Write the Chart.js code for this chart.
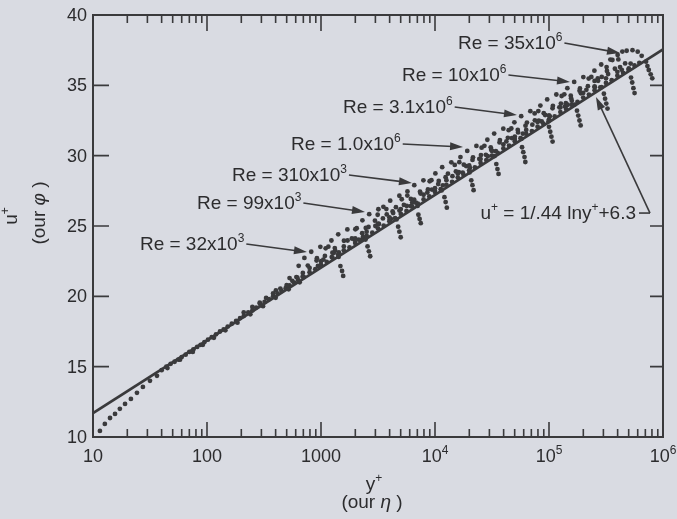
<!DOCTYPE html>
<html><head><meta charset="utf-8">
<script src="https://cdn.jsdelivr.net/npm/chart.js@4/dist/chart.umd.min.js"></script>
<style>
html,body{margin:0;padding:0;background:#d9dbe2;}
#wrap{width:677px;height:519px;position:relative;}
canvas{display:block;}
</style>
</head><body><div id="wrap"><canvas id="c" width="677" height="519"></canvas></div>
<script>
// ---------- axis ticks ----------
const xMajor = [10, 100, 1000, 1e4, 1e5, 1e6];
const xMajorBase = ['10', '100', '1000', '10', '10', '10'];
const xMajorExp = ['', '', '', '4', '5', '6'];
const yMajor = [10, 15, 20, 25, 30, 35, 40];

// ---------- log-law line u+ = 1/.44 ln y+ + 6.3 (end points as drawn) ----------
const lineYplus = [10, 1e6];
const lineUplus = [11.7, 37.55];

// ---------- measured profiles [y+, u+] ----------
const nearWall = [[11.5,10.43],[12.7,10.93],[14.1,11.35],[15.6,11.64],[17.2,12.0],[19.1,12.35],[21.5,12.71],[24.3,13.14],[27.4,13.56],[31.6,13.99],[36.4,14.35]];
const logRegion = [[40,14.75],[44,15.0],[48,15.2],[52,15.35],[56,15.5],[60,15.68],[65,15.85],[70,16.05],[76,16.22],[82,16.4],[88,16.55],[95,16.75],[102,16.92],[110,17.1],[120,17.3],[130,17.5],[140,17.65],[152,17.85],[165,18.05],[180,18.25],[195,18.45],[210,18.6],[230,18.85],[250,19.0],[270,19.2],[295,19.4],[320,19.6],[350,19.8],[380,20.0],[415,20.2],[450,20.38],[490,20.58],[530,20.78],[580,20.98],[630,21.15],[690,21.4],
  [45,14.9],[58,15.5],[75,16.05],[92,16.55],[115,17.05],[145,17.58],[185,18.13],[240,18.72],[310,19.3],[400,19.9],[520,20.5],[650,21.0],
  [210,18.85],[250,19.25],[290,19.55],[330,19.88],[380,20.2],[440,20.55],[500,20.8],[560,21.1],[620,21.33]];
const outerLog = [[708,21.36],[794,21.72],[891,21.93],[1000,22.24],[1122,22.45],[1259,22.76],[1413,22.97],[1585,23.27],[1778,23.48],[1995,23.79],[2239,24.0],[2512,24.31],[2818,24.52],[3162,24.83],[3548,25.03],[3981,25.34],[4467,25.55],[5012,25.86],[5623,26.07],[6310,26.38],[7079,26.58],[7943,26.89],[8913,27.1],[10000,27.41],[11220,27.62],[12590,27.93],[14130,28.14],[15850,28.44],[17780,28.65],[19950,28.96],[22390,29.17],[25120,29.48],[28180,29.69],[31620,30.0],[35480,30.2],[39810,30.51],[44670,30.72],[50120,31.03],[56230,31.24],[63100,31.55],[70790,31.75],[79430,32.06],[89130,32.27],[100000,32.58],[112200,32.79],[125900,33.1],[141300,33.31],[158500,33.61],[177800,33.82],[199500,34.13],[223900,34.34],[251200,34.65],[281800,34.86],[316200,35.17],[354800,35.37],[398100,35.68],[446700,35.89],[501200,36.2],[562300,36.41],
  [794,22.02],[1000,22.5],[1259,23.1],[1585,23.55],[1995,24.12],[2512,24.6],[3162,25.16],[3981,25.62],[5012,26.2],[6310,26.66],[7943,27.22],[10000,27.69],[12590,28.26],[15850,28.72],[19950,29.3],[25120,29.76],[31620,30.33],[39810,30.8],[50120,31.36],[63100,31.83],[79430,32.4],[100000,32.86],[125900,33.43],[158500,33.9],[199500,34.46],[251200,34.93],[316200,35.5],[398100,35.96]];
const re32k = [[291,19.49],[402,20.42],[530,21.3],[637,22.17],[715,22.73],[821,23.17],[987,23.52],[1160,23.53],[1331,23.25],[608,21.37],[766,22.19],[921,22.71],[1082,22.87],[1242,22.79],[1426,22.8],[1480,22.15],[1530,21.8],[1565,21.45]];
const re55k = [[502,20.73],[693,21.66],[914,22.54],[1099,23.41],[1234,23.97],[1416,24.41],[1703,24.76],[2001,24.77],[2296,24.49],[1049,22.61],[1321,23.43],[1590,23.95],[1866,24.11],[2143,24.03],[2459,24.04],[2560,23.55],[2630,23.2],[2700,22.85]];
const re99k = [[940,22.16],[1297,23.09],[1710,23.97],[2057,24.84],[2308,25.4],[2648,25.84],[3186,26.19],[3743,26.2],[4296,25.92],[1963,24.04],[2471,24.86],[2974,25.38],[3492,25.54],[4010,25.46],[4602,25.47],[4750,24.95],[4870,24.6],[5000,24.2]];
const re170k = [[1435,23.12],[1981,24.05],[2612,24.93],[3142,25.8],[3526,26.36],[4046,26.8],[4867,27.15],[5718,27.16],[6562,26.88],[2999,25.0],[3775,25.82],[4543,26.34],[5334,26.5],[6125,26.42],[7029,26.43],[7150,25.8],[7330,25.5],[7500,25.2]];
const re310k = [[2334,24.22],[3222,25.15],[4247,26.03],[5108,26.9],[5733,27.46],[6578,27.9],[7914,28.25],[9298,28.26],[10670,27.98],[4876,26.1],[6137,26.92],[7387,27.44],[8673,27.6],[9959,27.52],[11430,27.53],[12100,27.05],[12400,26.7],[12700,26.3]];
const re550k = [[4101,25.5],[5662,26.43],[7465,27.31],[8978,28.18],[10076,28.74],[11562,29.18],[13908,29.53],[16341,29.54],[18753,29.26],[8569,27.38],[10787,28.2],[12983,28.72],[15243,28.88],[17504,28.8],[20087,28.81],[20800,28.25],[21300,27.9],[21800,27.55]];
const re1M = [[6807,26.66],[9397,27.59],[12388,28.47],[14899,29.34],[16722,29.9],[19187,30.34],[23082,30.69],[27119,30.7],[31121,30.42],[14221,28.54],[17901,29.36],[21545,29.88],[25297,30.04],[29048,29.96],[33336,29.97],[34500,29.4],[35300,29.05],[36100,28.7]];
const re1_8M = [[11720,27.89],[16180,28.82],[21330,29.7],[25650,30.57],[28790,31.13],[33040,31.57],[39740,31.92],[46690,31.93],[53580,31.65],[24480,29.77],[30820,30.59],[37100,31.11],[43560,31.27],[50020,31.19],[57400,31.2],[58000,30.6],[59500,30.25],[61000,29.9],[62000,29.55]];
const re3_1M = [[20230,29.13],[27930,30.06],[36820,30.94],[44290,31.81],[49700,32.37],[57030,32.81],[68610,33.16],[80610,33.17],[92500,32.89],[42270,31.01],[53210,31.83],[64040,32.35],[75190,32.51],[86340,32.43],[99080,32.44],[100000,32.05],[102500,31.7],[105000,31.35],[107500,31.0]];
const re5_4M = [[34190,30.32],[47210,31.25],[62230,32.13],[74850,33.0],[84010,33.56],[96390,34.0],[116000,34.35],[136200,34.36],[156300,34.08],[71440,32.2],[89930,33.02],[108200,33.54],[127100,33.7],[145900,33.62],[167500,33.63],[176000,33.2],[180500,32.85],[185000,32.5],[189500,32.15]];
const re10M = [[59000,31.56],[81450,32.49],[107400,33.37],[129100,34.24],[144900,34.8],[166300,35.24],[200100,35.59],[235100,35.6],[269700,35.32],[123300,33.44],[155200,34.26],[186800,34.78],[219300,34.94],[251800,34.86],[289000,34.87],[303000,34.4],[310500,34.05],[318000,33.7],[326000,33.35]];
const re18M = [[101800,32.8],[140600,33.73],[185300,34.61],[222900,35.48],[250200,36.04],[287100,36.48],[345400,36.83],[405800,36.84],[465600,36.56],[212800,34.68],[267800,35.5],[322400,36.02],[378500,36.18],[434600,36.1],[498800,36.11],[524000,35.55],[537000,35.2],[550000,34.8],[563000,34.45]];
const re35M = [[138000,33.5],[190500,34.43],[251100,35.31],[290000,35.6],[320000,36.3],[360000,36.8],[400000,37.16],[440000,37.4],[480000,37.46],[540000,37.5],[600000,37.39],[650000,37.1],[330000,35.8],[420000,36.3],[520000,36.55],[620000,36.6],[710000,36.68],[730000,36.37],[750000,36.09],[780000,35.78],[805000,35.5]];
const profiles = [nearWall, logRegion, outerLog, re32k, re55k, re99k, re170k, re310k, re550k, re1M, re1_8M, re3_1M, re5_4M, re10M, re18M, re35M];

// ---------- annotations (data coordinates) ----------
const reMantissa = ['32', '99', '310', '1.0', '3.1', '10', '35'];
const reExponent = ['3', '3', '3', '6', '6', '6', '6'];
const reTextAt = [[25.8,23.29],[81.7,26.21],[165.6,28.2],[546,30.4],[1560,33.03],[5140,35.31],[15920,37.58]];
const reArrowTo = [[753,23.15],[2432,26.0],[6280,28.06],[17620,30.62],[52360,32.89],[152800,35.24],[419800,37.3]];
const lawTextEnd = [579700, 25.5];
const lawArrowFrom = [769000, 25.92];
const lawArrowTo = [258200, 34.17];

const INK = '#3a3a3c';
const TXT = '#2c2c2e';
const FONT = '"Liberation Sans", Arial, Helvetica, sans-serif';

function supText(ctx, x, y, base, sup, size, align, italicBase){
  const bf = (italicBase ? 'italic ' : '') + size + 'px ' + FONT;
  const sf = Math.round(size*0.65) + 'px ' + FONT;
  ctx.font = bf; const wb = ctx.measureText(base).width;
  ctx.font = sf; const ws = sup ? ctx.measureText(sup).width : 0;
  const w = wb + ws;
  let sx = x;
  if (align === 'center') sx = x - w/2; else if (align === 'right') sx = x - w;
  ctx.textAlign = 'left'; ctx.textBaseline = 'alphabetic';
  ctx.font = bf; ctx.fillText(base, sx, y);
  if (sup){ ctx.font = sf; ctx.fillText(sup, sx + wb, y - size*0.42); }
  return sx + w;
}
function arrow(ctx, x1, y1, x2, y2){
  const ang = Math.atan2(y2-y1, x2-x1), L = 13, W = 4;
  ctx.beginPath(); ctx.moveTo(x1,y1); ctx.lineTo(x2 - L*0.8*Math.cos(ang), y2 - L*0.8*Math.sin(ang)); ctx.stroke();
  ctx.beginPath();
  ctx.moveTo(x2, y2);
  ctx.lineTo(x2 - L*Math.cos(ang) + W*Math.sin(ang), y2 - L*Math.sin(ang) - W*Math.cos(ang));
  ctx.lineTo(x2 - L*Math.cos(ang) - W*Math.sin(ang), y2 - L*Math.sin(ang) + W*Math.cos(ang));
  ctx.closePath(); ctx.fill();
}

const decor = {
  id: 'decor',
  afterDraw(chart){
    const {ctx, chartArea: a, scales: {x, y}} = chart;
    ctx.save();
    ctx.strokeStyle = INK; ctx.fillStyle = INK; ctx.lineWidth = 2;
    ctx.strokeRect(a.left, a.top, a.right - a.left, a.bottom - a.top);
    ctx.lineWidth = 1.6;
    ctx.beginPath();
    for (let i = 0; i < xMajor.length; i++){
      const px = x.getPixelForValue(xMajor[i]);
      ctx.moveTo(px, a.bottom); ctx.lineTo(px, a.bottom - 15);
      ctx.moveTo(px, a.top); ctx.lineTo(px, a.top + 16);
      if (i < xMajor.length - 1){
        for (let m = 2; m <= 9; m++){
          const q = x.getPixelForValue(xMajor[i]*m);
          ctx.moveTo(q, a.bottom); ctx.lineTo(q, a.bottom - 8);
          ctx.moveTo(q, a.top); ctx.lineTo(q, a.top + 8);
        }
      }
    }
    for (const v of yMajor){
      if (v === 10 || v === 40) continue;
      const py = y.getPixelForValue(v);
      ctx.moveTo(a.left, py); ctx.lineTo(a.left + 16, py);
      ctx.moveTo(a.right, py); ctx.lineTo(a.right - 13, py);
    }
    ctx.stroke();

    // tick labels
    ctx.fillStyle = TXT;
    for (let i = 0; i < xMajor.length; i++){
      supText(ctx, x.getPixelForValue(xMajor[i]), a.bottom + 25, xMajorBase[i], xMajorExp[i], 18, 'center');
    }
    ctx.font = '18px ' + FONT; ctx.textAlign = 'right'; ctx.textBaseline = 'middle';
    for (const v of yMajor){ ctx.fillText(String(v), a.left - 6, y.getPixelForValue(v) + 1); }

    // axis titles
    supText(ctx, 374, 490, 'y', '+', 19, 'center');
    const p1 = '(our ', p3 = ')';
    ctx.font = '19px ' + FONT; const w1 = ctx.measureText(p1).width, w3 = ctx.measureText(p3).width;
    ctx.font = 'italic 19px ' + FONT; const w2 = ctx.measureText('η ').width;
    let sx = 372 - (w1+w2+w3)/2;
    ctx.textAlign = 'left'; ctx.textBaseline = 'alphabetic';
    ctx.font = '19px ' + FONT; ctx.fillText(p1, sx, 508);
    ctx.font = 'italic 19px ' + FONT; ctx.fillText('η', sx + w1, 508);
    ctx.font = '19px ' + FONT; ctx.fillText(p3, sx + w1 + w2, 508);

    ctx.save(); ctx.translate(17, 216); ctx.rotate(-Math.PI/2);
    supText(ctx, 0, 0, 'u', '+', 19, 'center');
    ctx.restore();
    ctx.save(); ctx.translate(45, 213); ctx.rotate(-Math.PI/2);
    ctx.font = 'italic 19px ' + FONT; const wp = ctx.measureText('φ ').width;
    sx = -(w1 + wp + w3)/2;
    ctx.font = '19px ' + FONT; ctx.fillText(p1, sx, 0);
    ctx.font = 'italic 19px ' + FONT; ctx.fillText('φ', sx + w1, 0);
    ctx.font = '19px ' + FONT; ctx.fillText(p3, sx + w1 + wp, 0);
    ctx.restore();

    // Re annotations
    ctx.strokeStyle = INK; ctx.lineWidth = 1.6;
    for (let i = 0; i < reMantissa.length; i++){
      const tx = x.getPixelForValue(reTextAt[i][0]), ty = y.getPixelForValue(reTextAt[i][1]);
      ctx.fillStyle = TXT;
      const end = supText(ctx, tx, ty, 'Re = ' + reMantissa[i] + 'x10', reExponent[i], 19, 'left');
      ctx.fillStyle = INK;
      arrow(ctx, end + 2, ty - 6, x.getPixelForValue(reArrowTo[i][0]), y.getPixelForValue(reArrowTo[i][1]));
    }
    // log-law label
    ctx.fillStyle = TXT;
    const lx = x.getPixelForValue(lawTextEnd[0]), ly = y.getPixelForValue(lawTextEnd[1]);
    const parts = [['u','+'],[' = 1/.44 lny','+'],['+6.3','']];
    let total = 0;
    for (const [b,s] of parts){ ctx.font = '19px ' + FONT; total += ctx.measureText(b).width; ctx.font = '12px ' + FONT; total += s ? ctx.measureText(s).width : 0; }
    let cx = lx - total;
    for (const [b,s] of parts){ cx = supText(ctx, cx, ly, b, s, 19, 'left'); }
    const fx = x.getPixelForValue(lawArrowFrom[0]), fy = y.getPixelForValue(lawArrowFrom[1]);
    ctx.fillStyle = INK;
    ctx.beginPath(); ctx.moveTo(lx + 3, fy); ctx.lineTo(fx, fy); ctx.stroke();
    arrow(ctx, fx, fy, x.getPixelForValue(lawArrowTo[0]), y.getPixelForValue(lawArrowTo[1]));
    ctx.restore();
  }
};

const datasets = [{
  type: 'line', data: lineYplus.map((v, i) => ({x: v, y: lineUplus[i]})),
  borderColor: INK, borderWidth: 2.8, pointRadius: 0, fill: false, order: 0
}];
for (const p of profiles){
  datasets.push({type: 'scatter', data: p.map(d => ({x: d[0], y: d[1]})),
    pointRadius: 2.4, pointBackgroundColor: INK, pointBorderWidth: 0, pointBorderColor: INK, order: 1});
}

new Chart(document.getElementById('c'), {
  data: {datasets},
  options: {
    responsive: false, animation: false, devicePixelRatio: 1,
    layout: {padding: {left: 93, right: 14, top: 15, bottom: 82}},
    plugins: {legend: {display: false}, tooltip: {enabled: false}},
    scales: {
      x: {type: 'logarithmic', min: 10, max: 1e6, display: false},
      y: {type: 'linear', min: 10, max: 40, display: false}
    }
  },
  plugins: [decor]
});
</script></body></html>
